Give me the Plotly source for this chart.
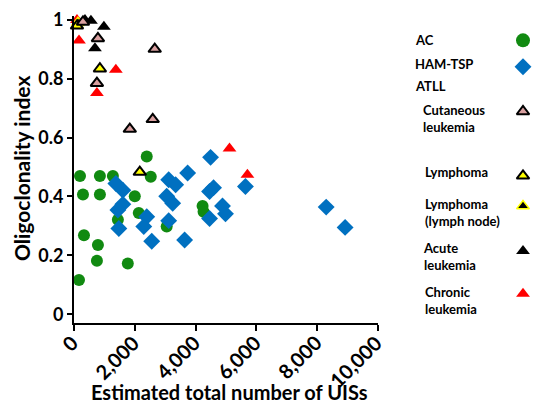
import plotly.graph_objects as go

# ---------------- data ----------------
ac_x = [197, 852, 1279, 295, 852, 2000, 2393, 2525, 2131, 1443, 328, 787, 754, 1770, 164, 3049, 4230, 4262]
ac_y = [0.470, 0.470, 0.470, 0.407, 0.407, 0.401, 0.536, 0.467, 0.344, 0.321, 0.268, 0.235, 0.182, 0.172, 0.116, 0.298, 0.368, 0.348]

ham_x = [1377, 1607, 1607, 1443, 1475, 2393, 2295, 2557, 3115, 3344, 3049, 3246, 3738, 4492,
         4590, 4459, 4885, 4984, 4459, 3115, 3639, 5639, 8295, 8918]
ham_y = [0.444, 0.421, 0.374, 0.354, 0.291, 0.331, 0.298, 0.248, 0.457, 0.440, 0.401, 0.377, 0.480, 0.533,
         0.430, 0.417, 0.368, 0.341, 0.325, 0.318, 0.252, 0.434, 0.364, 0.295]

cut_x = [295, 787, 754, 2656, 1836, 2590]
cut_y = [0.993, 0.937, 0.785, 0.901, 0.629, 0.662]

lym_x = [98, 852, 2164]
lym_y = [0.980, 0.834, 0.483]

node_x = [130]
node_y = [0.990]

acute_x = [557, 984, 689, 361]
acute_y = [0.997, 0.977, 0.904, 1.0]

chron_x = [98, 164, 1377, 754, 5115, 5705]
chron_y = [1.0, 0.930, 0.831, 0.752, 0.563, 0.474]

x_ticks = [0, 2000, 4000, 6000, 8000, 10000]
y_ticks = [0, 0.2, 0.4, 0.6, 0.8, 1.0]

legend_labels = ["AC", "HAM-TSP", "ATLL", "Cutaneous<br>leukemia", "Lymphoma",
                 "Lymphoma<br>(lymph node)", "Acute<br>leukemia", "Chronic<br>leukemia"]

FONT = "Lato"
GREEN = "#118A11"
BLUE = "#0070C0"
PINK = "#D9A0A0"
YELLOW = "#FFFF00"
RED = "#FF0000"

# the page has an 8px body margin, so the figure is laid out 8px smaller
W, H = 532, 399
ML, MR, MT, MB = 66, 2, 0, 84
plot_w = W - ML - MR
plot_h = H - MT - MB
x_dom_end = 304 / plot_w

fig = go.Figure()

def add(x, y, symbol, size, color, lc, lw):
    fig.add_trace(go.Scatter(
        x=x, y=y, mode="markers", cliponaxis=False, showlegend=False,
        marker=dict(symbol=symbol, size=size, color=color, line=dict(color=lc, width=lw))))

add(ac_x, ac_y, "circle", 12, GREEN, GREEN, 0)
add(ham_x, ham_y, "diamond", 13, BLUE, BLUE, 0)
add(chron_x, chron_y, "triangle-up", 12, RED, RED, 0)
add(node_x, node_y, "triangle-up", 11, "black", YELLOW, 1.5)
add(acute_x, acute_y, "triangle-up", 12, "black", "black", 0)
add(lym_x, lym_y, "triangle-up", 11, YELLOW, "black", 2)
add(cut_x, cut_y, "triangle-up", 11, PINK, "black", 2)

# ---------------- legend (pixel overlay axes) ----------------
leg_text_x = [405, 405, 405, 413, 415, 415, 413, 415]
leg_text_y = [25, 49, 72, 105, 160, 202, 247, 292]
key_x = 515
key_y = [25, 52, 98, 164, 195, 241, 285]
key_sym = ["circle", "diamond", "triangle-up", "triangle-up", "triangle-up", "triangle-up", "triangle-up"]
key_fill = [GREEN, BLUE, PINK, YELLOW, "black", "black", RED]
key_line = [GREEN, BLUE, "black", "black", YELLOW, "black", RED]
key_lw = [0, 0, 2, 2, 1.5, 0, 0]
key_size = [14, 13, 11, 11, 11, 12, 12]

for i in range(len(key_y)):
    fig.add_trace(go.Scatter(
        x=[key_x], y=[key_y[i]], mode="markers", xaxis="x2", yaxis="y2",
        cliponaxis=False, showlegend=False,
        marker=dict(symbol=key_sym[i], size=key_size[i], color=key_fill[i],
                    line=dict(color=key_line[i], width=key_lw[i]))))

annotations = []
for t, tx, ty in zip(legend_labels, leg_text_x, leg_text_y):
    annotations.append(dict(text=t, x=tx, y=ty, xref="x2", yref="y2", xanchor="left",
                            yanchor="middle", showarrow=False, align="left",
                            font=dict(family=FONT, size=13, color="black", weight="bold")))

# rotated x tick labels (Prism style: label box hangs from the tick)
for v in x_ticks:
    annotations.append(dict(text=f"{v:,}", x=v, y=0, xref="x", yref="paper",
                            xanchor="right", yanchor="top", xshift=10, yshift=-6,
                            textangle=-45, showarrow=False, borderpad=0,
                            font=dict(family=FONT, size=20, color="black", weight="bold")))

annotations.append(dict(text="Estimated total number of UISs",
                        x=(221.5 - ML) / plot_w, y=(MT + plot_h - 386) / plot_h,
                        xref="paper", yref="paper",
                        xanchor="center", yanchor="middle", showarrow=False,
                        font=dict(family=FONT, size=20, color="black", weight="bold")))
annotations.append(dict(text="Oligoclonality index",
                        x=(13 - ML) / plot_w, y=(MT + plot_h - 157) / plot_h,
                        xref="paper", yref="paper",
                        xanchor="center", yanchor="middle", showarrow=False, textangle=-90,
                        font=dict(family=FONT, size=21, color="black", weight="bold")))

fig.update_layout(
    width=W, height=H, autosize=False,
    margin=dict(l=ML, r=MR, t=MT, b=MB, pad=0),
    paper_bgcolor="white", plot_bgcolor="rgba(0,0,0,0)",
    font=dict(family=FONT, color="black"),
    xaxis=dict(domain=[0, x_dom_end], range=[0, 10000], tickvals=x_ticks, showticklabels=False,
               ticks="outside", ticklen=6, tickwidth=2, tickcolor="black",
               showline=True, linewidth=2, linecolor="black", showgrid=False, zeroline=False),
    yaxis=dict(domain=[0, 1], range=[-0.0298, 1.0132], tickvals=y_ticks,
               ticks="outside", ticklen=5, tickwidth=2, tickcolor="black",
               ticklabeloverflow="allow",
               showline=True, linewidth=2, linecolor="black", showgrid=False, zeroline=False,
               tickfont=dict(family=FONT, size=18, color="black", weight="bold")),
    xaxis2=dict(domain=[0, 1], range=[ML, W - MR], visible=False, anchor="y2", fixedrange=True),
    yaxis2=dict(domain=[0, 1], range=[H - MB, MT], visible=False, anchor="x2", fixedrange=True),
    annotations=annotations,
)

fig.write_html("out.html")
